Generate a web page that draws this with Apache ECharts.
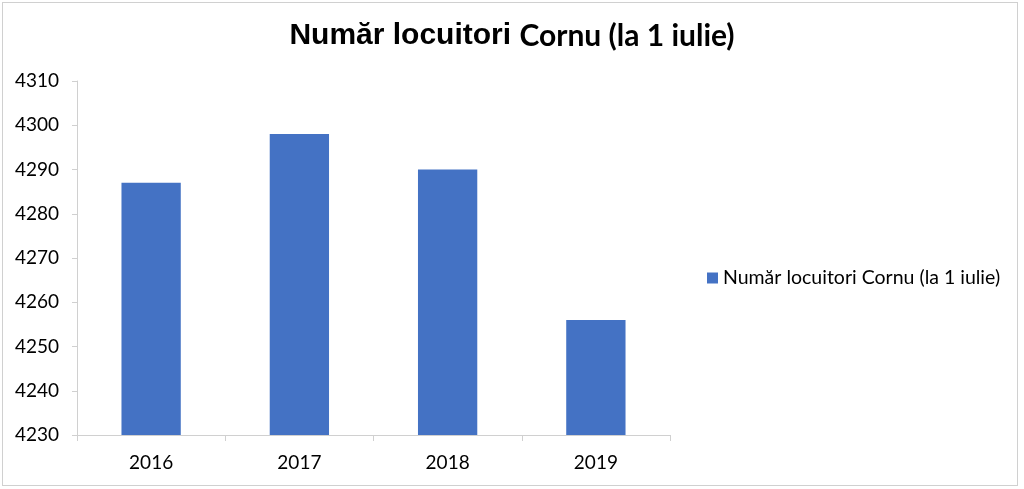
<!DOCTYPE html>
<html><head><meta charset="utf-8">
<script src="https://cdn.jsdelivr.net/npm/echarts@6/dist/echarts.min.js"></script>
<style>
html,body{margin:0;padding:0;background:#fff;}
#frame{position:absolute;left:2px;top:2px;width:1016px;height:484px;border:1px solid #d0d0d0;box-sizing:border-box;}
#chart{position:absolute;left:0;top:0;width:1024px;height:489px;}
</style></head>
<body>
<div id="frame"></div>
<div id="chart"></div>
<script>
const categories = ['2016', '2017', '2018', '2019'];
const seriesName = 'Număr locuitori Cornu (la 1 iulie)';
const values = [4287, 4298, 4290, 4256];
const yMin = 4230, yMax = 4310, yStep = 10;

const chart = echarts.init(document.getElementById('chart'));
chart.setOption({
  animation: false,
  title: {
    text: '{a|Număr locuitori }{b|Cornu (la 1 iulie)}',
    left: 'center', top: 16,
    textStyle: {
      rich: {
        a: { fontFamily: 'Liberation Sans', fontWeight: 'bold', fontSize: 30, color: '#000' },
        b: { fontFamily: 'Lato', fontWeight: 'bold', fontSize: 30, color: '#000' }
      }
    }
  },
  legend: {
    orient: 'vertical', left: 702, top: 263,
    itemWidth: 11, itemHeight: 11, icon: 'rect', itemGap: 5,
    textStyle: { fontFamily: 'Lato', fontSize: 19.5, color: '#000' }
  },
  grid: { left: 77, right: 354, top: 81, bottom: 54 },
  xAxis: {
    type: 'category', data: categories,
    axisLine: { lineStyle: { color: '#d0d0d0' } },
    axisTick: { show: true, length: 6, lineStyle: { color: '#d0d0d0' } },
    axisLabel: { fontFamily: 'Lato', fontSize: 19, color: '#000', margin: 18 }
  },
  yAxis: {
    type: 'value', min: yMin, max: yMax, interval: yStep,
    axisLine: { show: true, lineStyle: { color: '#d0d0d0' } },
    axisTick: { show: true, length: 5, lineStyle: { color: '#d0d0d0' } },
    splitLine: { show: false },
    axisLabel: { fontFamily: 'Lato', fontSize: 19, color: '#000', margin: 18, formatter: v => String(v) }
  },
  series: [{
    name: seriesName, type: 'bar', data: values,
    barWidth: '40%',
    itemStyle: { color: '#4472C4' }
  }]
});
</script>
</body></html>
